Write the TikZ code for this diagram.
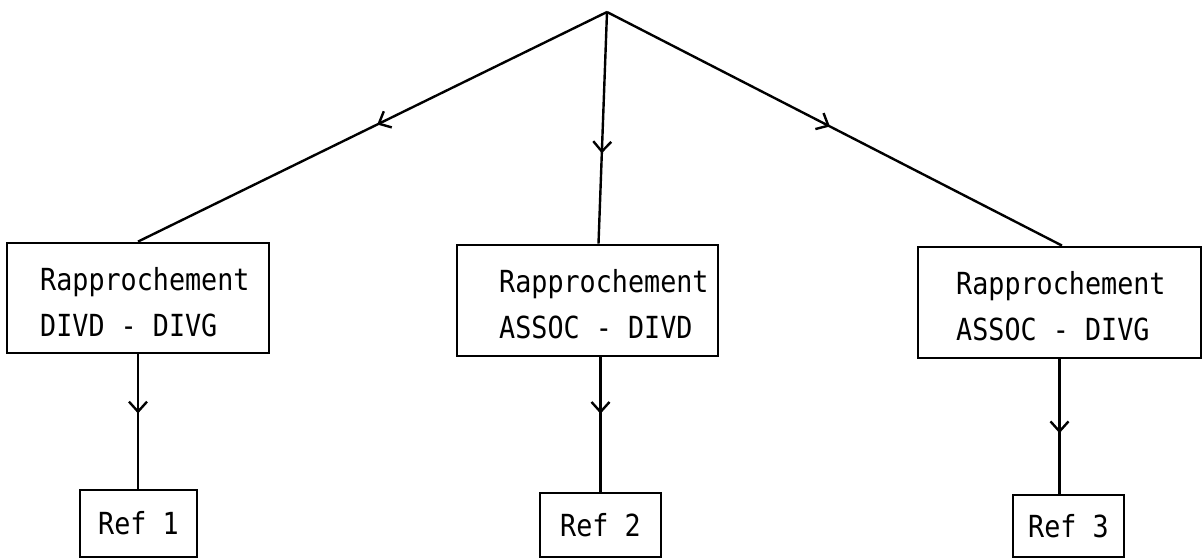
\documentclass[tikz,border=0pt]{standalone}
\usepackage{fontspec}
\newfontfamily\typew[FakeStretch=0.88]{DejaVu Sans Mono}
\usetikzlibrary{arrows.meta,decorations.markings}

\tikzset{
  box/.style={draw,line width=1.4pt,inner sep=0pt},
  txt/.style={font=\typew\fontsize{15.2}{23}\selectfont,align=left,inner sep=0pt},
  mid/.style={postaction={decorate},decoration={markings,mark=at position #1 with {\arrow{Straight Barb[length=5pt,width=9pt,line width=1.2pt]}}}}
}

\begin{document}
\begin{tikzpicture}[x=0.5pt,y=-0.5pt,line width=1.2pt]
\useasboundingbox (0,0) rectangle (1204,559);
\coordinate (top) at (607,12);
% rapprochements
\node[box,minimum width=131pt,minimum height=55pt] (b1) at (138,298) {};
\node[box,minimum width=130.5pt,minimum height=55.5pt] (b2) at (587.5,300.5) {};
\node[box,minimum width=141.5pt,minimum height=55.5pt] (b3) at (1059.5,302.5) {};
\node[txt,anchor=west] (t1) at (39,302) {Rapprochement\\DIVD - DIVG};
\node[txt,anchor=west] (t2) at (498,304) {Rapprochement\\ASSOC - DIVD};
\node[txt,anchor=west] (t3) at (955,306) {Rapprochement\\ASSOC - DIVG};
% refs
\node[box,txt,minimum width=58.5pt,minimum height=33.5pt] (r1) at (138.5,523.5) {Ref 1};
\node[box,txt,minimum width=60.5pt,minimum height=32pt] (r2) at (600.5,525) {Ref 2};
\node[box,txt,minimum width=55.5pt,minimum height=31pt] (r3) at (1068.5,526) {Ref 3};
\draw[mid=0.49] (top) -- (b1.north);
\draw[mid=0.61] (top) -- ([xshift=5.5pt]b2.north);
\draw[mid=0.49] (top) -- ([xshift=1.25pt]b3.north);
\draw[mid=0.44] (b1.south) -- (b1.south |- r1.north);
\draw[mid=0.42] (r2.north |- b2.south) -- (r2.north);
\draw[mid=0.55] (b3.south) -- (b3.south |- r3.north);
\end{tikzpicture}
\end{document}
